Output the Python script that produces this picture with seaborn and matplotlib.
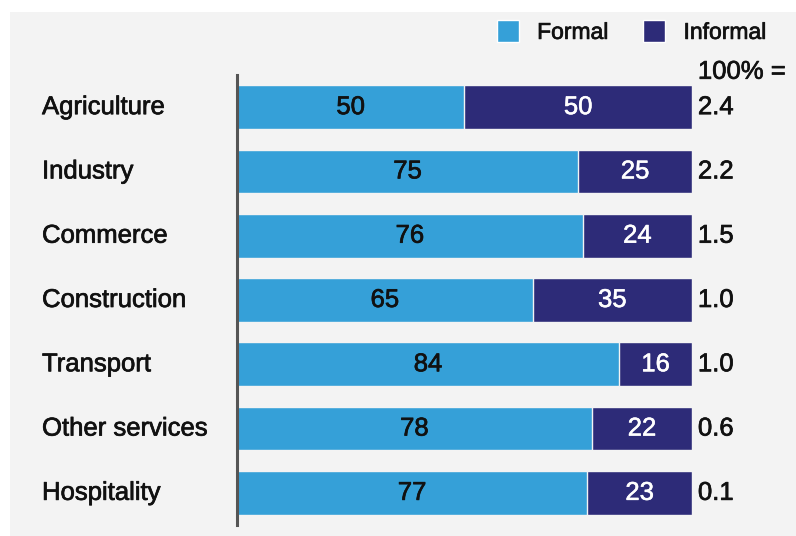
import matplotlib
matplotlib.use("Agg")
import matplotlib.pyplot as plt
import matplotlib.patheffects as pe
from matplotlib.patches import Patch, Rectangle
import seaborn as sns
import pandas as pd

# Data
sectors = ['Agriculture', 'Industry', 'Commerce', 'Construction',
           'Transport', 'Other services', 'Hospitality']
formal = [50, 75, 76, 65, 84, 78, 77]
informal = [50, 25, 24, 35, 16, 22, 23]
totals = ['2.4', '2.2', '1.5', '1.0', '1.0', '0.6', '0.1']

FORMAL_C = '#35a0d8'
INFORMAL_C = '#2d2b78'
BG = '#f3f3f3'
INK = '#111111'

sns.set_theme(style='white')
plt.rcParams['font.family'] = ['Liberation Sans', 'DejaVu Sans']

df = pd.DataFrame({'sector': sectors, 'formal': formal, 'informal': informal})
df['cum'] = df['formal'] + df['informal']

fig = plt.figure(figsize=(7.96, 5.36), dpi=100, facecolor='white')
fig.patches.append(Rectangle((10 / 796, 0), 1, 1 - 12 / 536, transform=fig.transFigure,
                             facecolor=BG, edgecolor='none', zorder=-1))
ax = fig.add_axes([237 / 796, 11 / 536, 455 / 796, 450 / 536])
ax.set_facecolor('none')

# stacked: full bar (informal) first, formal over it
sns.barplot(data=df, x='cum', y='sector', color=INFORMAL_C, width=0.68,
            saturation=1, orient='h', ax=ax, edgecolor=BG, linewidth=1)
sns.barplot(data=df, x='formal', y='sector', color=FORMAL_C, width=0.68,
            saturation=1, orient='h', ax=ax, edgecolor=BG, linewidth=1)

ax.set_xlim(0, 100)
ax.set_ylim(6.5, -0.5)
ax.set_xlabel('')
ax.set_ylabel('')
ax.set_xticks([])
ax.tick_params(axis='y', length=0, pad=0)
ax.set_yticklabels([])

fs = 18.5
dark_fx = [pe.withStroke(linewidth=0.5, foreground=INK)]
light_fx = [pe.withStroke(linewidth=0.4, foreground='white')]
for i, s in enumerate(sectors):
    ax.text(-195 / 455 * 100, i, s, ha='left', va='center', fontsize=fs, color=INK,
            path_effects=dark_fx)
    ax.text(formal[i] / 2, i, str(formal[i]), ha='center', va='center',
            fontsize=fs, color=INK, path_effects=dark_fx)
    ax.text(formal[i] + informal[i] / 2, i, str(informal[i]), ha='center', va='center',
            fontsize=fs, color='white', path_effects=light_fx)
    ax.text(101.3, i, totals[i], ha='left', va='center', fontsize=fs, color=INK,
            path_effects=dark_fx)

ax.text(101.3, -0.55, '100% =', ha='left', va='center', fontsize=fs, color=INK,
        path_effects=dark_fx)

for side in ['top', 'right', 'bottom']:
    ax.spines[side].set_visible(False)
ax.spines['left'].set_color('#555555')
ax.spines['left'].set_linewidth(2.2)

handles = [Patch(facecolor=FORMAL_C, label='Formal'),
           Patch(facecolor=INFORMAL_C, label='Informal')]
leg = fig.legend(handles=handles, loc='center left', bbox_to_anchor=(497 / 796, 1 - 32 / 536),
                 ncol=2, frameon=False, fontsize=16.5, handlelength=0.95, handleheight=1.1,
                 handletextpad=0.8, columnspacing=1.53, borderaxespad=0, borderpad=0)
for t in leg.get_texts():
    t.set_color(INK)
    t.set_path_effects(dark_fx)

fig.savefig('out.png', dpi=100, facecolor=fig.get_facecolor())
